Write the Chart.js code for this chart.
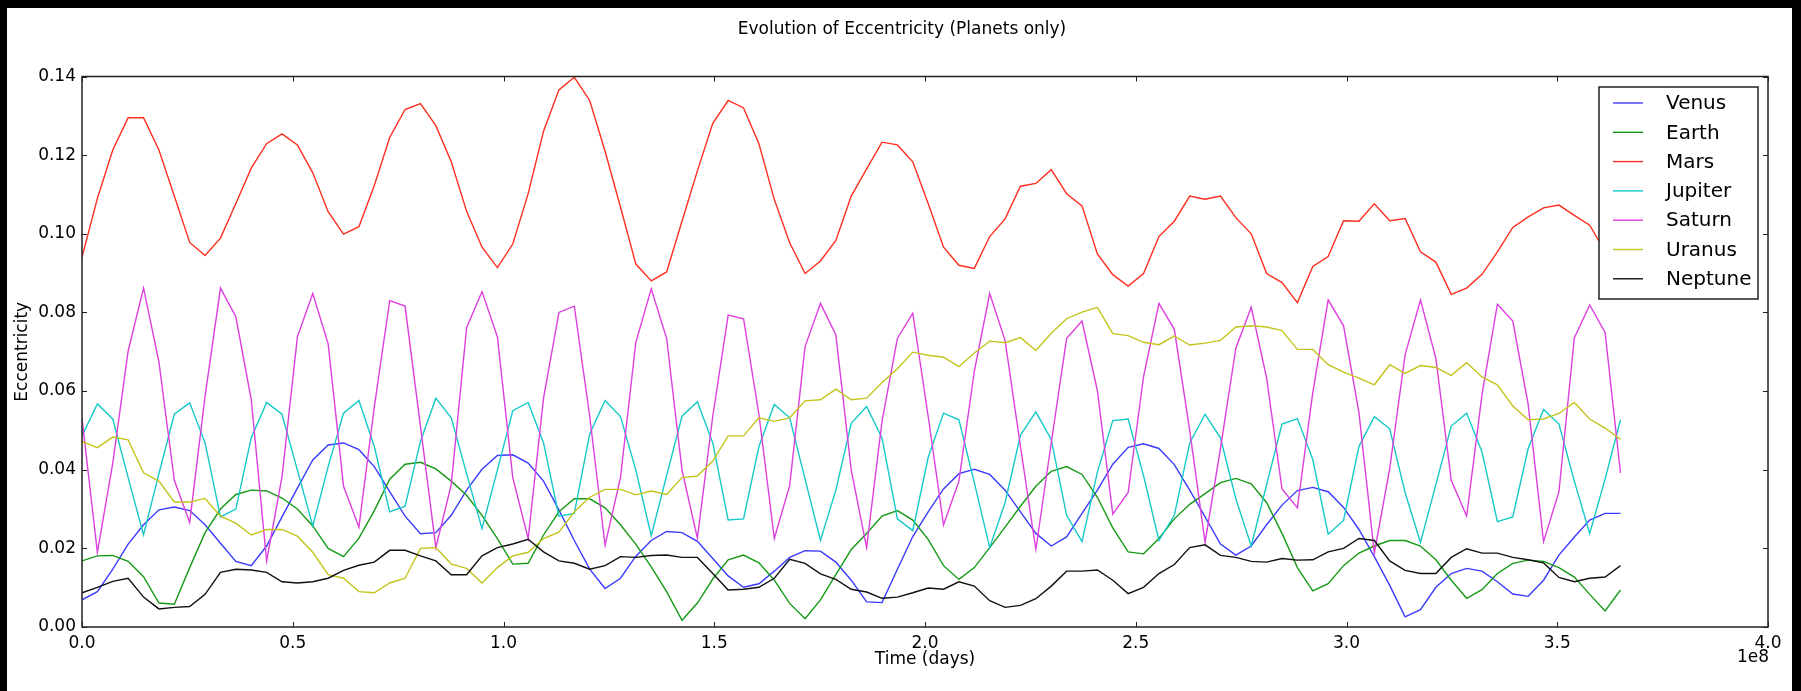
<!DOCTYPE html>
<html>
<head>
<meta charset="utf-8">
<script src="https://cdn.jsdelivr.net/npm/chart.js@4.4.1/dist/chart.umd.min.js"></script>
<style>
  html, body { margin: 0; padding: 0; background: #000; }
  #paper { position: absolute; left: 7px; top: 8px; width: 1785px; height: 683px; background: #fff; }
  #wrap { position: absolute; left: 0; top: 0; width: 1801px; height: 691px; }
</style>
</head>
<body>
<div id="paper"></div>
<div id="wrap"><canvas id="eccChart" width="1801" height="691"></canvas></div>
<script>
// time in units of 1e6 days
var timeMdays = [0, 3.65, 7.3, 10.95, 14.6, 18.25, 21.9, 25.55, 29.2, 32.85, 36.5, 40.15, 43.8, 47.45, 51.1, 54.75, 58.4, 62.05, 65.7,
  69.35, 73, 76.65, 80.3, 83.95, 87.6, 91.25, 94.9, 98.55, 102.2, 105.85, 109.5, 113.15, 116.8, 120.45, 124.1, 127.75, 131.4,
  135.05, 138.7, 142.35, 146, 149.65, 153.3, 156.95, 160.6, 164.25, 167.9, 171.55, 175.2, 178.85, 182.5, 186.15, 189.8, 193.45, 197.1,
  200.75, 204.4, 208.05, 211.7, 215.35, 219, 222.65, 226.3, 229.95, 233.6, 237.25, 240.9, 244.55, 248.2, 251.85, 255.5, 259.15, 262.8, 266.45,
  270.1, 273.75, 277.4, 281.05, 284.7, 288.35, 292, 295.65, 299.3, 302.95, 306.6, 310.25, 313.9, 317.55, 321.2, 324.85, 328.5, 332.15,
  335.8, 339.45, 343.1, 346.75, 350.4, 354.05, 357.7, 361.35, 365];

var venus = [0.0069, 0.009, 0.0147, 0.0211, 0.026, 0.0298, 0.0305, 0.0296, 0.026, 0.0213, 0.0167, 0.0156, 0.0206, 0.028, 0.0353, 0.0425, 0.0463, 0.0468, 0.0451,
  0.0408, 0.0344, 0.0282, 0.0237, 0.024, 0.0284, 0.0348, 0.0401, 0.0436, 0.0438, 0.0417, 0.0371, 0.0298, 0.022, 0.0147, 0.0098, 0.0124, 0.018,
  0.022, 0.0243, 0.024, 0.0218, 0.0174, 0.013, 0.0101, 0.011, 0.0142, 0.0177, 0.0194, 0.0193, 0.0165, 0.0119, 0.0064, 0.0062, 0.0147, 0.023,
  0.0293, 0.0351, 0.039, 0.0401, 0.0388, 0.0348, 0.0293, 0.0238, 0.0206, 0.0229, 0.0289, 0.0348, 0.0414, 0.0457, 0.0466, 0.0454, 0.0413, 0.0348, 0.028,
  0.0211, 0.0183, 0.0206, 0.026, 0.031, 0.0347, 0.0355, 0.0344, 0.0304, 0.0248, 0.0179, 0.0106, 0.0026, 0.0044, 0.0101, 0.0136, 0.0149, 0.0142,
  0.0115, 0.0084, 0.0078, 0.0119, 0.0183, 0.0229, 0.0272, 0.0289, 0.0289];

var earth = [0.0168, 0.0181, 0.0182, 0.0167, 0.0128, 0.0061, 0.0058, 0.0151, 0.024, 0.030, 0.0337, 0.0348, 0.0346, 0.0328, 0.030, 0.0257, 0.020, 0.0179, 0.0226,
  0.0296, 0.0376, 0.0414, 0.0419, 0.0402, 0.0371, 0.0335, 0.0284, 0.0225, 0.016, 0.0162, 0.0234, 0.0293, 0.0326, 0.0326, 0.0303, 0.026, 0.021,
  0.0153, 0.009, 0.0017, 0.0061, 0.0122, 0.0171, 0.0183, 0.0163, 0.0119, 0.006, 0.0021, 0.0069, 0.0133, 0.0197, 0.0238, 0.0282, 0.0296, 0.0272,
  0.0223, 0.0156, 0.0121, 0.0151, 0.0202, 0.0254, 0.0307, 0.0358, 0.0396, 0.0408, 0.0388, 0.033, 0.0252, 0.0191, 0.0186, 0.0225, 0.0275, 0.0312, 0.0339,
  0.0367, 0.0378, 0.0364, 0.0316, 0.0238, 0.0151, 0.0092, 0.011, 0.0156, 0.0188, 0.0206, 0.022, 0.022, 0.0206, 0.0171, 0.0119, 0.0073, 0.0095,
  0.0136, 0.0162, 0.017, 0.0167, 0.0151, 0.0127, 0.0083, 0.0041, 0.0094];

var mars = [0.094, 0.109, 0.1213, 0.1295, 0.1295, 0.1213, 0.1096, 0.0978, 0.0945, 0.0989, 0.1077, 0.1167, 0.1229, 0.1254, 0.1226, 0.1155, 0.1056, 0.0999, 0.1018,
  0.1123, 0.1245, 0.1316, 0.1331, 0.1275, 0.1183, 0.1057, 0.0966, 0.0914, 0.0974, 0.1102, 0.1261, 0.1366, 0.1398, 0.1339, 0.121, 0.1068, 0.0923,
  0.088, 0.0903, 0.1032, 0.116, 0.1281, 0.1339, 0.132, 0.1229, 0.1087, 0.0977, 0.0899, 0.0931, 0.0983, 0.1096, 0.1165, 0.1233, 0.1226, 0.1183,
  0.1077, 0.0966, 0.092, 0.0912, 0.0993, 0.1038, 0.1121, 0.1128, 0.1163, 0.1102, 0.1071, 0.0949, 0.0896, 0.0867, 0.0899, 0.0993, 0.1032, 0.1096, 0.1088,
  0.1096, 0.1041, 0.1, 0.0899, 0.0876, 0.0825, 0.0917, 0.0942, 0.1033, 0.1032, 0.1076, 0.1033, 0.1039, 0.0954, 0.0928, 0.0846, 0.0862, 0.0897,
  0.0954, 0.1016, 0.1043, 0.1066, 0.1073, 0.1047, 0.1022, 0.0955, 0.092];

var jupiter = [0.0486, 0.0567, 0.0529, 0.038, 0.0234, 0.039, 0.0541, 0.057, 0.0468, 0.028, 0.030, 0.0481, 0.0571, 0.0541, 0.0399, 0.0257, 0.0408, 0.0544, 0.0576,
  0.0459, 0.0293, 0.0307, 0.0472, 0.0582, 0.0532, 0.039, 0.025, 0.0399, 0.055, 0.0571, 0.0468, 0.0282, 0.0289, 0.0491, 0.0576, 0.0535, 0.0399,
  0.0232, 0.0385, 0.0536, 0.0573, 0.0468, 0.0272, 0.0275, 0.0459, 0.0566, 0.0532, 0.0376, 0.022, 0.0348, 0.0518, 0.0561, 0.0481, 0.0275, 0.0245,
  0.0431, 0.0544, 0.0527, 0.0367, 0.0202, 0.0316, 0.0488, 0.0547, 0.0477, 0.0284, 0.0217, 0.0394, 0.0525, 0.0529, 0.0385, 0.022, 0.0284, 0.0468, 0.0541,
  0.0481, 0.0326, 0.0206, 0.0362, 0.0516, 0.053, 0.0426, 0.0236, 0.0271, 0.0459, 0.0535, 0.0504, 0.0342, 0.0215, 0.0362, 0.0511, 0.0544, 0.0445,
  0.0268, 0.028, 0.0454, 0.0553, 0.0516, 0.0371, 0.0238, 0.0376, 0.0527];

var saturn = [0.053, 0.019, 0.0417, 0.0702, 0.0862, 0.0674, 0.0373, 0.0266, 0.0587, 0.0862, 0.0789, 0.0578, 0.0168, 0.0382, 0.0738, 0.0848, 0.072, 0.0358, 0.0254,
  0.056, 0.083, 0.0816, 0.051, 0.0202, 0.0362, 0.0761, 0.0853, 0.0738, 0.038, 0.0225, 0.0582, 0.08, 0.0816, 0.0536, 0.0208, 0.038, 0.0724,
  0.086, 0.0734, 0.0399, 0.0226, 0.0536, 0.0793, 0.0784, 0.0541, 0.0225, 0.036, 0.0713, 0.0823, 0.0743, 0.0399, 0.0202, 0.0523, 0.0734, 0.0798,
  0.0536, 0.026, 0.0371, 0.0651, 0.0848, 0.0729, 0.0459, 0.0197, 0.0468, 0.0734, 0.0778, 0.0601, 0.0287, 0.0342, 0.0637, 0.0823, 0.0757, 0.05, 0.0215,
  0.0454, 0.0709, 0.0813, 0.0633, 0.0351, 0.0303, 0.0596, 0.0832, 0.0766, 0.0546, 0.0188, 0.0403, 0.0692, 0.0832, 0.0683, 0.0373, 0.0282, 0.0591,
  0.0821, 0.0778, 0.0566, 0.0217, 0.0344, 0.0735, 0.0819, 0.0749, 0.0392];

var uranus = [0.0472, 0.0456, 0.0483, 0.0476, 0.0392, 0.0371, 0.0318, 0.0318, 0.0327, 0.0282, 0.0264, 0.0234, 0.0248, 0.0248, 0.0231, 0.019, 0.0133, 0.0124, 0.009,
  0.0087, 0.0112, 0.0124, 0.02, 0.0202, 0.016, 0.0149, 0.0112, 0.0151, 0.0181, 0.019, 0.0225, 0.0241, 0.0293, 0.033, 0.035, 0.035, 0.0336,
  0.0346, 0.0337, 0.038, 0.0384, 0.0422, 0.0486, 0.0486, 0.0532, 0.0523, 0.0532, 0.0575, 0.0578, 0.0605, 0.0578, 0.0582, 0.0622, 0.0657, 0.0699,
  0.0691, 0.0686, 0.0662, 0.0697, 0.0727, 0.0723, 0.0736, 0.0703, 0.0747, 0.0784, 0.0801, 0.0813, 0.0746, 0.0741, 0.0724, 0.0718, 0.074, 0.0717, 0.0722,
  0.0729, 0.0763, 0.0766, 0.0763, 0.0754, 0.0706, 0.0706, 0.0667, 0.0648, 0.0633, 0.0616, 0.0667, 0.0645, 0.0665, 0.066, 0.064, 0.0672, 0.0636,
  0.0616, 0.0562, 0.0527, 0.0529, 0.0543, 0.0571, 0.0529, 0.0506, 0.0477];

var neptune = [0.0087, 0.0101, 0.0116, 0.0124, 0.0076, 0.0046, 0.005, 0.0052, 0.0083, 0.0139, 0.0147, 0.0145, 0.0139, 0.0115, 0.0112, 0.0115, 0.0124, 0.0144, 0.0157,
  0.0165, 0.0195, 0.0195, 0.0181, 0.0168, 0.0133, 0.0133, 0.0181, 0.0202, 0.0211, 0.0223, 0.0191, 0.0168, 0.0162, 0.0147, 0.0156, 0.0179, 0.0177,
  0.0182, 0.0183, 0.0177, 0.0177, 0.0136, 0.0094, 0.0096, 0.0101, 0.0124, 0.0172, 0.0162, 0.0135, 0.0121, 0.0096, 0.0089, 0.0073, 0.0076, 0.0087,
  0.0099, 0.0096, 0.0115, 0.0104, 0.0067, 0.005, 0.0055, 0.0072, 0.0104, 0.0142, 0.0142, 0.0145, 0.0119, 0.0085, 0.0101, 0.0136, 0.0159, 0.0202, 0.0209,
  0.0182, 0.0177, 0.0167, 0.0165, 0.0174, 0.017, 0.0171, 0.0191, 0.02, 0.0225, 0.022, 0.0168, 0.0144, 0.0136, 0.0136, 0.0177, 0.0199, 0.0188,
  0.0188, 0.0177, 0.0171, 0.0163, 0.0126, 0.0115, 0.0124, 0.0127, 0.0156];

var planetNames = ["Venus", "Earth", "Mars", "Jupiter", "Saturn", "Uranus", "Neptune"];
var planetSeries = [venus, earth, mars, jupiter, saturn, uranus, neptune];
var planetColors = ['#3b3bff', '#169a16', '#ff2e1e', '#16c8c8', '#dd3edd', '#c4c41e', '#111111'];

var FONT = '"DejaVu Sans", "Liberation Sans", sans-serif';

function toPoints(vals) {
    return vals.map(function (v, i) { return { x: timeMdays[i], y: v }; });
}

var datasets = planetNames.map(function (name, k) {
    return {
        label: name,
        data: toPoints(planetSeries[k]),
        borderColor: planetColors[k],
        borderWidth: 1.4,
        pointRadius: 0,
        fill: false,
        tension: 0,
        order: 6 - k
    };
});

// matplotlib-style frame, inward ticks, texts and legend
var decorations = {
    id: 'decorations',
    afterDatasetsDraw: function (chart) {
        var ctx = chart.ctx;
        var a = chart.chartArea;
        var xs = chart.scales.x, ys = chart.scales.y;
        ctx.save();
        ctx.strokeStyle = '#222';
        ctx.lineWidth = 1;
        ctx.beginPath();
        xs.ticks.forEach(function (t) {
            var px = Math.round(xs.getPixelForValue(t.value)) + 0.5;
            ctx.moveTo(px, a.bottom); ctx.lineTo(px, a.bottom - 5);
            ctx.moveTo(px, a.top); ctx.lineTo(px, a.top + 5);
        });
        ys.ticks.forEach(function (t) {
            var py = Math.round(ys.getPixelForValue(t.value)) + 0.5;
            ctx.moveTo(a.left, py); ctx.lineTo(a.left + 5, py);
            ctx.moveTo(a.right, py); ctx.lineTo(a.right - 5, py);
        });
        ctx.stroke();
        ctx.lineWidth = 1.5;
        ctx.strokeRect(a.left, a.top, a.right - a.left, a.bottom - a.top);

        // legend
        var lx = 1599, ly = 87, lw = 159, lh = 212;
        ctx.fillStyle = '#fff';
        ctx.fillRect(lx, ly, lw, lh);
        ctx.strokeStyle = '#222';
        ctx.lineWidth = 1.5;
        ctx.strokeRect(lx, ly, lw, lh);
        ctx.font = '20px ' + FONT;
        ctx.textBaseline = 'middle';
        ctx.textAlign = 'left';
        planetNames.forEach(function (name, k) {
            var yy = 103 + k * 29.3;
            ctx.strokeStyle = planetColors[k];
            ctx.lineWidth = 1.4;
            ctx.beginPath();
            ctx.moveTo(1613, yy); ctx.lineTo(1643, yy);
            ctx.stroke();
            ctx.fillStyle = '#000';
            ctx.fillText(name, 1666, yy + 1);
        });

        // titles
        ctx.fillStyle = '#000';
        ctx.textAlign = 'center';
        ctx.font = '17px ' + FONT;
        ctx.fillText('Evolution of Eccentricity (Planets only)', 902, 30);
        ctx.fillText('Time (days)', (a.left + a.right) / 2, 660);
        ctx.textAlign = 'right';
        ctx.textBaseline = 'top';
        ctx.fillText('1e8', a.right + 1, 649);
        ctx.save();
        ctx.translate(23, (a.top + a.bottom) / 2);
        ctx.rotate(-Math.PI / 2);
        ctx.textAlign = 'center';
        ctx.textBaseline = 'middle';
        ctx.fillText('Eccentricity', 0, 0);
        ctx.restore();
        ctx.restore();
    }
};

var eccChart = new Chart(document.getElementById('eccChart'), {
    type: 'line',
    data: { datasets: datasets },
    options: {
        responsive: false,
        animation: false,
        devicePixelRatio: 1,
        layout: { padding: { left: 0, top: 76.5, right: 33, bottom: 0 } },
        plugins: { legend: { display: false }, tooltip: { enabled: false }, title: { display: false } },
        scales: {
            x: {
                type: 'linear',
                min: 0,
                max: 400,
                afterFit: function (s) { s.height = 64; },
                grid: { display: false, drawTicks: false },
                border: { display: false },
                ticks: {
                    stepSize: 50,
                    padding: 6,
                    color: '#000',
                    font: { family: FONT, size: 17 },
                    maxRotation: 0,
                    callback: function (v) { return (v / 100).toFixed(1); }
                }
            },
            y: {
                min: 0,
                max: 0.14,
                afterFit: function (s) { s.width = 82; },
                grid: { display: false, drawTicks: false },
                border: { display: false },
                ticks: {
                    stepSize: 0.02,
                    padding: 6,
                    color: '#000',
                    font: { family: FONT, size: 17 },
                    callback: function (v) { return v.toFixed(2); }
                }
            }
        }
    },
    plugins: [decorations]
});
</script>
</body>
</html>
